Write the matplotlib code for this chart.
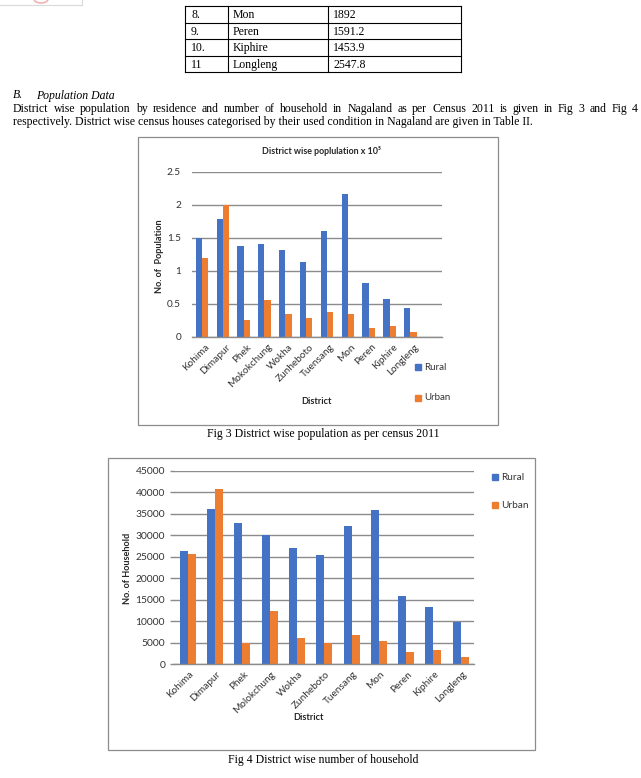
import matplotlib
matplotlib.use("Agg")
import matplotlib.pyplot as plt
from matplotlib.patches import Rectangle, Ellipse
from matplotlib.lines import Line2D
from matplotlib.transforms import ScaledTranslation
import numpy as np

plt.rcParams['font.family'] = ['Lato', 'DejaVu Sans']

W, H = 641, 778

# table rows left over from Table I
tbl_no = ["8.", "9.", "10.", "11"]
tbl_district = ["Mon", "Peren", "Kiphire", "Longleng"]
tbl_value = ["1892", "1591.2", "1453.9", "2547.8"]

heading_no = "B."
heading = "Population Data"
para = ["District wise population by residence and number of household in Nagaland as per Census 2011 is given in Fig 3 and Fig 4",
        "respectively. District wise census houses categorised by their used condition in Nagaland are given in Table II."]

# Fig 3 - population (x 10^5)
pop_districts = ["Kohima", "Dimapur", "Phek", "Mokokchung", "Wokha", "Zunheboto",
                 "Tuensang", "Mon", "Peren", "Kiphire", "Longleng"]
pop_rural = [1.50, 1.79, 1.38, 1.40, 1.31, 1.13, 1.60, 2.16, 0.81, 0.57, 0.43]
pop_urban = [1.20, 2.00, 0.25, 0.55, 0.34, 0.28, 0.37, 0.34, 0.13, 0.16, 0.07]

# Fig 4 - households
hh_districts = ["Kohima", "Dimapur", "Phek", "Molokchung", "Wokha", "Zunheboto",
                "Tuensang", "Mon", "Peren", "Kiphire", "Longleng"]
hh_rural = [26300, 36080, 32820, 29950, 27000, 25370, 32120, 35850, 15830, 13270, 9850]
hh_urban = [25600, 40730, 4970, 12340, 6050, 4970, 6750, 5350, 2790, 3260, 1630]

series = ["Rural", "Urban"]
colors = ["#4472C4", "#ED7D31"]

fig = plt.figure(figsize=(W / 100, H / 100), dpi=100)
renderer = fig.canvas.get_renderer()


def fx(x):
    return x / W


def fy(y):
    return 1 - y / H


def line(x0, y0, x1, y1, color="black", lw=0.8):
    fig.add_artist(Line2D([fx(x0), fx(x1)], [fy(y0), fy(y1)], color=color, lw=lw))


def box(x0, y0, x1, y1, color="#8c8c8c", lw=0.9):
    fig.add_artist(Rectangle((fx(x0), fy(y1)), fx(x1) - fx(x0), (y1 - y0) / H,
                             fill=False, edgecolor=color, lw=lw, transform=fig.transFigure))


serif = "Liberation Serif"

# fit body text size so the last paragraph line spans like the page
probe = fig.text(0, 0, para[1], fontsize=10, family=serif)
body_size = 10 * 518 / probe.get_window_extent(renderer).width
probe.remove()

# faint logo corner
line(0, 4.5, 82, 4.5, color="#d9d9d9", lw=0.8)
line(82, 0, 82, 4.5, color="#d9d9d9", lw=0.8)
fig.add_artist(Ellipse((fx(41), fy(-1)), 14 / W, 8 / H, fill=False, edgecolor="#f2b3b3",
                       lw=1.2, transform=fig.transFigure))

# table
tx = [185, 228, 328, 461]
ty = [6, 22.5, 39, 55.5, 72]
for y in ty:
    line(tx[0], y, tx[-1], y)
for x in tx:
    line(x, ty[0], x, ty[-1])
for i in range(len(tbl_no)):
    yb = (ty[i] + ty[i + 1]) / 2 + 4
    for x, s in zip([191, 233, 333], [tbl_no[i], tbl_district[i], tbl_value[i]]):
        fig.text(fx(x), fy(yb), s, fontsize=body_size, family=serif, va="baseline")

# heading and paragraph
fig.text(fx(13), fy(98.5), heading_no, fontsize=body_size, family=serif, style="italic", va="baseline")
fig.text(fx(36), fy(98.5), heading, fontsize=body_size, family=serif, style="italic", va="baseline")

words = para[0].split()
arts = [fig.text(0, fy(112), w, fontsize=body_size, family=serif, va="baseline") for w in words]
widths = [a.get_window_extent(renderer).width for a in arts]
gap = (638 - 13 - sum(widths)) / (len(words) - 1)
x = 13
for a, w in zip(arts, widths):
    a.set_x(fx(x))
    x += w + gap
fig.text(fx(13), fy(125.5), para[1], fontsize=body_size, family=serif, va="baseline")

# chart frames and captions
box(138, 137, 498, 425)
box(107.7, 458, 535, 750)
fig.text(fx(323), fy(436.5), "Fig 3 District wise population as per census 2011",
         fontsize=body_size, family=serif, ha="center", va="baseline")
fig.text(fx(323), fy(762.5), "Fig 4 District wise number of household",
         fontsize=body_size, family=serif, ha="center", va="baseline")

grid_c = "#8c8c8c"
tick_c = "#333333"
lab_c = "#262626"


def style_axes(ax, dx):
    for s in ["top", "right", "left"]:
        ax.spines[s].set_visible(False)
    ax.spines["bottom"].set_color(grid_c)
    ax.spines["bottom"].set_linewidth(1.0)
    ax.yaxis.grid(True, color=grid_c, lw=1.0)
    ax.set_axisbelow(True)
    ax.tick_params(axis="x", length=0, pad=4, labelsize=7.2, labelcolor=tick_c)
    off = ScaledTranslation(dx / 100, 0, fig.dpi_scale_trans)
    for lab in ax.get_xticklabels():
        lab.set_rotation(45)
        lab.set_ha("right")
        lab.set_va("top")
        lab.set_rotation_mode("anchor")
        lab.set_transform(lab.get_transform() + off)


# ---- Fig 3
ax1 = fig.add_axes([fx(191.5), fy(336.7), (441.7 - 191.5) / W, (336.7 - 171.7) / H])
x1 = np.arange(len(pop_districts))
bw = 0.3
ax1.bar(x1 - bw / 2, pop_rural, bw, color=colors[0])
ax1.bar(x1 + bw / 2, pop_urban, bw, color=colors[1])
ax1.set_xlim(-0.5, 11.5)
ax1.set_ylim(0, 2.5)
ax1.set_yticks([0, 0.5, 1, 1.5, 2, 2.5])
ax1.set_yticklabels(["0", "0.5", "1", "1.5", "2", "2.5"])
ax1.tick_params(axis="y", length=0, pad=7.5, labelsize=7.2, labelcolor=tick_c)
ax1.set_xticks(x1)
ax1.set_xticklabels(pop_districts)
style_axes(ax1, 3)

fig.text(fx(322), fy(151), "District wise poplulation x 10\u2075", fontsize=6.4,
         fontweight="bold", color=lab_c, ha="center", va="center")
fig.text(fx(159), fy(256), "No. of  Population", fontsize=6.6, fontweight="bold",
         color=lab_c, rotation=90, ha="center", va="center")
fig.text(fx(316.7), fy(401.7), "District", fontsize=6.6, fontweight="bold",
         color=lab_c, ha="center", va="center")
for i, yy in enumerate([364, 395]):
    fig.add_artist(Rectangle((fx(415), fy(yy + 6)), 6.5 / W, 6 / H, color=colors[i],
                             transform=fig.transFigure))
    fig.text(fx(424), fy(yy + 3), series[i], fontsize=7, color=tick_c, va="center")

# ---- Fig 4
ax2 = fig.add_axes([fx(174.3), fy(664), (474.3 - 174.3) / W, (664 - 470.7) / H])
x2 = np.arange(len(hh_districts))
bw = 0.293
ax2.bar(x2 - bw / 2, hh_rural, bw, color=colors[0])
ax2.bar(x2 + bw / 2, hh_urban, bw, color=colors[1])
ax2.set_xlim(-0.5, 10.5)
ax2.set_ylim(0, 45000)
ax2.set_yticks(np.arange(0, 45001, 5000))
ax2.tick_params(axis="y", length=2.6, width=1.0, color=grid_c, pad=4, labelsize=7.4,
                labelcolor=tick_c)
ax2.set_xticks(x2)
ax2.set_xticklabels(hh_districts)
style_axes(ax2, 1)

fig.text(fx(128), fy(568), "No. of Household", fontsize=6.6, fontweight="bold",
         color=lab_c, rotation=90, ha="center", va="center")
fig.text(fx(308), fy(717.7), "District", fontsize=6.6, fontweight="bold",
         color=lab_c, ha="center", va="center")
for i, yy in enumerate([474.3, 502]):
    fig.add_artist(Rectangle((fx(491.7), fy(yy + 6)), 6.6 / W, 6 / H, color=colors[i],
                             transform=fig.transFigure))
    fig.text(fx(501), fy(yy + 3), series[i], fontsize=7.2, color=tick_c, va="center")

fig.savefig("out.png", dpi=100)
